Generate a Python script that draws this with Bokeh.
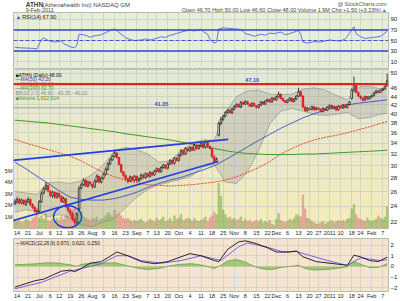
import numpy as np
import pandas as pd
from bokeh.plotting import figure
from bokeh.layouts import column
from bokeh.models import (Range1d, LinearAxis, LinearScale, FixedTicker, Label, Span,
                          BoxAnnotation, Grid, NumeralTickFormatter)
from bokeh.embed import file_html
from bokeh.resources import INLINE

# ---------------- data ----------------
start_date = "2010-06-11"
end_date = "2011-02-09"
market_holidays = ["2010-07-05", "2010-09-06", "2010-11-25", "2010-12-24", "2011-01-17"]

opens = [24.3,
         24.6, 24.9, 24.4, 24.8, 24.2,
         24.6, 24.9, 24.2, 23.8, 23.4,
         23.3, 24.6, 25.8, 26.4, 26.9,
         26.0, 25.4, 25.9, 25.2,
         25.7, 25.3, 24.6, 25.0, 23.9,
         23.4, 23.0, 22.3, 21.9, 23.6,
         26.5, 27.0, 27.7, 26.8, 27.4,
         27.1, 26.7, 27.5, 28.3, 27.4,
         28.0, 28.6, 29.4, 30.3, 31.0,
         31.6, 32.2, 31.4, 30.2, 29.0,
         28.4, 27.9, 27.5, 28.2, 27.7,
         28.3, 27.6, 27.9, 28.5, 28.1,
         28.7, 28.3, 28.9, 28.5,
         29.1, 29.5, 29.0, 29.7, 30.1,
         29.6, 30.3, 30.9, 30.4, 31.3,
         30.9, 31.8, 32.6, 32.0, 33.0,
         32.6, 33.2, 32.7, 33.6, 33.0,
         33.5, 33.9, 33.2, 34.1, 33.4,
         33.0, 31.5, 30.7, 35.5, 37.9,
         38.8, 39.5, 40.3, 40.8, 40.2,
         41.0, 41.6, 42.1, 41.5, 42.6,
         42.2, 42.8, 42.2, 41.7, 42.4,
         41.8, 41.4, 42.0, 42.7, 42.2,
         42.9, 43.3, 42.7, 43.6,
         43.2, 43.9, 44.6, 43.5, 43.0,
         42.6, 43.1, 43.6, 42.8, 43.4,
         44.1, 45.2, 44.1, 41.5, 40.7,
         41.2, 41.0, 41.6, 40.9,
         41.3, 41.0, 40.5, 41.2, 40.8,
         41.5, 41.9, 41.2, 41.6, 40.9,
         41.7, 41.3, 42.0, 41.4, 42.1,
         43.5, 45.6, 47.2, 45.0,
         44.1, 43.6, 43.1, 44.0, 43.4,
         43.9, 44.2, 44.9, 45.4, 45.0,
         45.6, 45.9, 46.7]

highs = [24.9,
         25.2, 25.1, 25.0, 24.9, 24.9,
         25.2, 25.0, 24.4, 24.0, 23.7,
         24.8, 26.0, 26.7, 27.4, 27.0,
         26.2, 26.1, 26.0, 25.9,
         25.9, 25.5, 25.3, 25.1, 24.1,
         23.7, 23.2, 22.5, 23.2, 26.8,
         27.3, 28.0, 27.8, 27.6, 27.6,
         27.2, 27.8, 28.6, 28.4, 28.2,
         28.8, 29.7, 30.6, 31.3, 31.8,
         32.6, 32.3, 31.5, 30.3, 29.1,
         28.6, 28.0, 28.4, 28.3, 28.5,
         28.4, 28.1, 28.7, 28.7, 28.9,
         28.8, 29.1, 29.0, 29.3,
         29.7, 29.6, 29.9, 30.3, 30.2,
         30.5, 31.1, 31.0, 31.5, 31.4,
         32.0, 32.9, 32.8, 33.3, 33.2,
         33.4, 33.4, 33.9, 33.7, 33.7,
         34.1, 34.0, 34.5, 34.2, 33.6,
         33.2, 31.8, 31.4, 38.3, 39.3,
         39.8, 40.6, 41.1, 41.0, 41.3,
         41.9, 42.4, 42.3, 42.9, 42.8,
         43.1, 43.0, 42.3, 42.6, 42.5,
         41.9, 42.2, 42.9, 42.9, 43.1,
         43.5, 43.4, 43.8, 43.8,
         44.2, 45.2, 44.7, 43.7, 43.2,
         43.3, 43.8, 43.7, 43.6, 44.3,
         46.2, 45.4, 44.3, 41.8, 41.5,
         41.4, 41.8, 41.7, 41.5,
         41.5, 41.2, 41.4, 41.3, 41.7,
         42.1, 42.0, 41.8, 41.7, 41.9,
         41.9, 42.2, 42.1, 42.3, 42.9,
         46.0, 49.2, 47.5, 45.3,
         44.3, 43.8, 44.2, 44.1, 44.1,
         44.4, 45.1, 45.6, 45.5, 45.8,
         46.1, 46.8, 50.0]

lows = [24.1,
        24.3, 24.2, 24.2, 24.1, 24.0,
        24.4, 24.0, 23.6, 23.1, 22.9,
        23.1, 24.4, 25.6, 26.2, 25.9,
        25.2, 25.1, 25.0, 25.0,
        25.0, 24.4, 24.4, 23.7, 23.1,
        22.7, 22.1, 21.6, 21.7, 23.4,
        26.3, 26.8, 26.6, 26.6, 26.9,
        26.4, 26.5, 27.3, 27.2, 27.2,
        27.8, 28.4, 29.2, 30.1, 30.8,
        31.4, 31.2, 30.0, 28.8, 28.1,
        27.6, 27.2, 27.4, 27.5, 27.5,
        27.4, 27.4, 27.7, 27.9, 27.9,
        28.1, 28.1, 28.3, 28.4,
        28.9, 28.8, 28.9, 29.5, 29.4,
        29.4, 30.1, 30.2, 30.2, 30.7,
        30.7, 31.6, 31.8, 31.8, 32.3,
        32.4, 32.5, 32.6, 32.8, 32.8,
        33.2, 33.0, 33.0, 33.2, 32.8,
        31.3, 30.4, 30.5, 35.3, 37.6,
        38.5, 39.3, 40.0, 40.0, 40.0,
        40.8, 41.4, 41.3, 41.3, 41.9,
        42.0, 42.0, 41.5, 41.5, 41.6,
        41.1, 41.2, 41.8, 42.0, 42.0,
        42.7, 42.5, 42.5, 43.0,
        43.0, 43.7, 43.3, 42.8, 42.4,
        42.4, 42.9, 42.6, 42.6, 43.2,
        43.9, 43.9, 41.2, 40.4, 40.5,
        40.7, 40.8, 40.7, 40.8,
        40.8, 40.3, 40.3, 40.6, 40.6,
        41.2, 41.0, 41.0, 40.6, 40.7,
        41.1, 41.1, 41.2, 41.2, 41.9,
        43.3, 45.2, 44.8, 43.9,
        43.3, 42.8, 43.0, 43.2, 43.3,
        43.7, 44.0, 44.7, 44.8, 44.9,
        45.3, 45.7, 46.6]

closes = [24.6,
          24.9, 24.4, 24.8, 24.3, 24.6,
          24.9, 24.2, 23.8, 23.3, 23.2,
          24.6, 25.7, 26.4, 26.9, 26.1,
          25.4, 25.9, 25.2, 25.7,
          25.3, 24.6, 25.0, 23.9, 23.4,
          23.0, 22.3, 21.9, 22.9, 26.4,
          27.0, 27.7, 26.8, 27.4, 27.1,
          26.7, 27.5, 28.3, 27.4, 28.0,
          28.6, 29.4, 30.3, 31.0, 31.6,
          32.2, 31.4, 30.2, 29.0, 28.4,
          27.9, 27.5, 28.2, 27.7, 28.3,
          27.6, 27.9, 28.5, 28.1, 28.7,
          28.3, 28.9, 28.5, 29.1,
          29.5, 29.0, 29.7, 30.1, 29.6,
          30.3, 30.9, 30.4, 31.3, 30.9,
          31.8, 32.6, 32.0, 33.0, 32.6,
          33.2, 32.7, 33.6, 33.0, 33.5,
          33.9, 33.2, 34.1, 33.4, 33.0,
          31.5, 30.7, 31.1, 37.9, 38.8,
          39.5, 40.3, 40.8, 40.2, 41.0,
          41.6, 42.1, 41.5, 42.6, 42.2,
          42.8, 42.2, 41.7, 42.4, 41.8,
          41.4, 42.0, 42.7, 42.2, 42.9,
          43.3, 42.7, 43.6, 43.2,
          43.9, 44.6, 43.5, 43.0, 42.6,
          43.1, 43.6, 42.8, 43.4, 44.1,
          45.2, 44.1, 41.5, 40.7, 41.2,
          41.0, 41.6, 40.9, 41.3,
          41.0, 40.5, 41.2, 40.8, 41.5,
          41.9, 41.2, 41.6, 40.9, 41.7,
          41.3, 42.0, 41.4, 42.1, 42.7,
          45.6, 47.2, 45.0, 44.1,
          43.6, 43.1, 44.0, 43.4, 43.9,
          44.2, 44.9, 45.4, 45.0, 45.6,
          45.9, 46.5, 48.0]

volumes_m = [0.8,
             0.6, 0.7, 0.5, 0.6, 0.8,
             0.7, 0.6, 0.9, 1.0, 1.2,
             0.9, 1.1, 0.8, 1.3, 0.7,
             0.6, 0.8, 0.7, 0.9,
             0.7, 1.0, 0.8, 1.2, 1.1,
             1.3, 1.6, 1.9, 1.4, 2.2,
             1.5, 1.0, 0.9, 0.8, 0.7,
             0.9, 0.8, 1.0, 0.7, 0.8,
             0.9, 1.1, 1.4, 1.2, 1.0,
             1.6, 1.2, 1.3, 1.1, 0.9,
             0.8, 0.9, 0.7, 0.6, 0.7,
             0.6, 0.7, 0.8, 0.6, 0.5,
             0.6, 0.8, 0.7, 0.6,
             0.9, 0.7, 0.8, 1.0, 0.6,
             0.7, 0.9, 0.6, 1.1, 0.8,
             0.9, 1.2, 0.7, 0.8, 0.9,
             0.8, 0.6, 0.9, 0.7, 0.6,
             0.7, 0.8, 1.0, 0.6, 0.9,
             1.1, 1.4, 1.2, 3.9, 2.8,
             1.6, 1.2, 0.9, 1.0, 0.8,
             0.9, 0.7, 0.8, 1.0, 0.6,
             0.8, 0.6, 0.7, 0.5, 0.6,
             0.7, 0.6, 0.8, 0.5, 0.6,
             0.5, 0.7, 0.4, 0.3,
             0.8, 1.3, 0.7, 0.6, 0.5,
             0.6, 0.8, 0.7, 0.9, 1.2,
             1.1, 1.0, 2.9, 1.7, 0.9,
             0.8, 0.6, 0.5, 0.4,
             0.4, 0.5, 0.6, 0.4, 0.5,
             0.6, 0.7, 0.5, 0.6, 0.7,
             0.6, 0.7, 0.6, 0.8, 0.9,
             1.7, 2.1, 1.2, 0.9,
             0.8, 0.7, 0.6, 0.9, 0.7,
             0.6, 0.7, 0.8, 1.1, 0.9,
             0.8, 1.0, 1.9]

# indicator samples (trading-day index -> value)
ind_idx = [0, 5, 10, 15, 20, 25, 30, 35, 40, 45, 50, 55, 60, 65, 70, 75, 80, 85, 90, 95,
           100, 105, 110, 115, 120, 125, 130, 135, 140, 145, 150, 155, 160, 165, 168]
ma50 = [30.6, 29.5, 28.3, 27.2, 26.1, 25.2, 24.9, 24.8, 24.8, 25.0, 25.4, 25.9, 26.6, 27.2,
        27.7, 28.1, 28.7, 29.3, 30.0, 31.0, 32.1, 33.3, 34.5, 35.7, 36.9, 38.0, 39.1, 40.0,
        40.8, 41.5, 42.0, 42.4, 42.7, 43.0, 43.2]
ma100 = [34.7, 34.0, 33.4, 32.8, 32.2, 31.6, 30.8, 29.8, 28.9, 28.2, 27.7, 27.3, 27.0, 26.9,
         26.8, 26.9, 27.0, 27.2, 27.4, 27.7, 28.2, 28.9, 29.7, 30.7, 32.0, 33.0, 33.9, 34.6,
         35.1, 35.5, 36.0, 36.6, 37.2, 37.9, 38.3]
ma200 = [38.6, 38.4, 38.2, 38.0, 37.7, 37.4, 37.1, 36.8, 36.5, 36.2, 35.8, 35.5, 35.2, 34.9,
         34.6, 34.2, 33.8, 33.4, 33.0, 32.6, 32.3, 32.1, 32.0, 31.9, 31.9, 31.9, 32.0, 32.0,
         32.1, 32.2, 32.3, 32.4, 32.5, 32.6, 32.7]
bb_upper = [26.0, 25.8, 25.6, 27.3, 27.4, 27.2, 27.6, 28.6, 30.2, 32.6, 33.2, 32.8, 32.0, 30.6,
            30.8, 32.6, 34.0, 34.6, 34.6, 40.2, 44.0, 45.4, 45.6, 44.6, 44.4, 44.6, 45.8, 46.2,
            45.6, 44.3, 43.2, 46.4, 46.6, 45.9, 46.6]
bb_lower = [23.2, 23.5, 23.3, 22.6, 22.9, 22.4, 21.6, 21.4, 22.0, 22.4, 23.8, 25.2, 26.3, 27.0,
            27.4, 27.8, 28.4, 29.8, 30.2, 27.4, 27.2, 29.0, 32.6, 37.8, 40.6, 41.2, 40.6, 39.9,
            39.6, 39.9, 40.3, 38.9, 39.2, 39.9, 40.1]

rsi_idx = [0, 3, 8, 10, 12, 13, 15, 18, 21, 22, 25, 27, 28, 29, 32, 34, 36, 39, 41, 43, 45, 48,
           50, 52, 54, 57, 59, 61, 63, 66, 68, 70, 72, 75, 77, 79, 81, 84, 85, 87, 88, 90, 91, 92,
           94, 97, 102, 104, 106, 108, 111, 113, 115, 117, 120, 122, 124, 126, 128, 129, 130, 132,
           135, 138, 140, 142, 144, 147, 149, 150, 152, 153, 154, 156, 158, 160, 162, 165, 166, 168]
rsi_val = [37, 36, 35, 34, 52, 55, 50, 47, 49, 44, 38, 36, 41, 62, 60, 56, 59, 61, 65, 69, 72, 62,
           55, 52, 50, 51, 53, 51, 53, 57, 56, 60, 62, 66, 68, 70, 68, 71, 67, 62, 52, 45, 47, 72,
           74, 73, 71, 63, 61, 58, 62, 60, 64, 63, 66, 61, 63, 66, 69, 62, 47, 45, 48, 47, 49, 51,
           50, 49, 53, 58, 70, 76, 63, 57, 54, 55, 56, 58, 61, 67.9]

macd_idx = [0, 9, 13, 21, 25, 27, 30, 34, 39, 43, 46, 51, 57, 63, 69, 75, 79, 84, 90, 92, 96, 101,
            104, 108, 114, 118, 124, 127, 130, 136, 144, 150, 153, 156, 160, 164, 168]
macd_line = [-1.95, -1.35, -1.2, -0.45, -0.35, -0.5, -0.2, 0.3, 0.45, 0.95, 1.35, 1.0, 0.45, 0.25,
             0.45, 0.9, 1.2, 1.0, 0.55, 0.45, 1.6, 2.3, 2.4, 2.2, 1.75, 1.35, 1.35, 1.45, 0.9,
             0.45, 0.25, 0.1, 1.05, 0.9, 0.55, 0.45, 0.87]
signal_idx = [0, 12, 25, 30, 39, 46, 51, 57, 66, 75, 84, 93, 101, 105, 114, 121, 127, 141, 150,
              156, 165, 168]
signal_line = [-2.1, -1.5, -0.45, -0.2, 0.25, 1.0, 1.0, 0.55, 0.3, 0.55, 1.0, 0.55, 1.85, 2.2, 1.8,
               1.35, 1.4, 0.55, 0.1, 0.8, 0.55, 0.62]
hist_idx = [0, 5, 10, 15, 20, 25, 28, 30, 35, 40, 45, 50, 55, 60, 65, 70, 75, 80, 85, 90, 93, 96,
            100, 104, 108, 112, 116, 120, 124, 128, 131, 135, 140, 145, 150, 153, 156, 160, 164, 168]
hist_val = [0.15, 0.2, 0.25, 0.35, 0.3, 0.15, 0.0, 0.2, 0.3, 0.3, 0.35, 0.1, -0.15, -0.3, -0.2,
            0.05, 0.2, 0.25, 0.1, -0.2, 0.1, 0.5, 0.65, 0.4, 0.0, -0.25, -0.3, -0.1, 0.0, 0.1, -0.2,
            -0.35, -0.3, -0.2, -0.05, 0.45, 0.2, -0.1, -0.1, 0.25]

# annotation lines (trading-day index, price)
trend_upper = {"idx": [-6.4, 96.3], "price": [30.7, 34.7]}
trend_lower = {"idx": [-6.4, 91.8], "price": [21.7, 30.7]}
resistance_level = 47.10
support_level = 41.35
support_end_idx = 100
circle_center = {"idx": 23.8, "price": 22.6}

tick_dates = ["2010-06-14", "2010-06-21", "2010-06-28", "2010-07-06", "2010-07-12", "2010-07-19",
              "2010-07-26", "2010-08-02", "2010-08-09", "2010-08-16", "2010-08-23", "2010-08-30",
              "2010-09-07", "2010-09-13", "2010-09-20", "2010-09-27", "2010-10-04", "2010-10-11",
              "2010-10-18", "2010-10-25", "2010-11-01", "2010-11-08", "2010-11-15", "2010-11-22",
              "2010-11-29", "2010-12-06", "2010-12-13", "2010-12-20", "2010-12-27", "2011-01-03",
              "2011-01-10", "2011-01-18", "2011-01-24", "2011-01-31", "2011-02-07"]
tick_labels = ["14", "21", "Jul", "6", "12", "19", "26", "Aug", "9", "16", "23", "Sep", "7", "13",
               "20", "Oct", "4", "11", "18", "25", "Nov", "8", "15", "22", "Dec", "6", "13", "20",
               "27", "2011", "10", "18", "24", "Feb", "7"]
price_ticks = [22, 24, 26, 28, 30, 32, 34, 36, 38, 40, 42, 44, 46, 50]
vol_ticks = [1e6, 2e6, 3e6, 4e6, 5e6]
vol_labels = ["1M", "2M", "3M", "4M", "5M"]
rsi_ticks = [10, 30, 50, 70, 90]
macd_ticks = [-2, -1, 0, 1, 2]

# ---------------- build ----------------
n = len(closes)
days = [d for d in pd.bdate_range(start_date, end_date)
        if d.strftime("%Y-%m-%d") not in market_holidays][:n]
day_str = [d.strftime("%Y-%m-%d") for d in days]
tick_idx = [day_str.index(t) for t in tick_dates]
overrides = {int(i): lab for i, lab in zip(tick_idx, tick_labels)}

FONT = "Liberation Sans"
FS = "6px"
W = 400
LB, RB = 13, 12
xr = Range1d(-0.6, n - 0.4)

GRID_COLOR = "#cfd3c4"


def add_xgrid(p):
    g = Grid(dimension=0, ticker=FixedTicker(ticks=tick_idx), grid_line_color=GRID_COLOR,
             grid_line_alpha=0.9, grid_line_width=1)
    p.add_layout(g)


def style_axis(ax):
    ax.major_label_text_font = FONT
    ax.major_label_text_font_size = FS
    ax.major_label_text_color = "#222222"
    ax.axis_line_color = None
    ax.major_tick_line_color = None
    ax.minor_tick_line_color = None
    ax.major_tick_out = 0
    ax.major_tick_in = 0
    ax.major_label_standoff = 2


def bottom_axis(p):
    ax = LinearAxis(ticker=FixedTicker(ticks=tick_idx), major_label_overrides=overrides)
    style_axis(ax)
    ax.major_label_text_font_size = "5.5px"
    ax.major_label_standoff = 1
    p.add_layout(ax, "below")


def value_box(p, yv, text, color, y_range_name="default", tc="white"):
    lab = Label(x=n - 0.4, y=yv, text=text, x_offset=0.5, text_font=FONT, text_font_size="4.4px",
                text_color=tc, text_align="left", text_baseline="middle",
                background_fill_color=color, y_range_name=y_range_name)
    p.add_layout(lab)


# ---- header ----
hdr = figure(width=W, height=12, x_range=Range1d(0, W), y_range=Range1d(0, 12),
             x_axis_type=None, y_axis_type=None, toolbar_location=None, output_backend="svg",
             min_border=0, outline_line_color=None)
hdr.grid.visible = False
hdr.add_layout(Label(x=13, y=8, text="ATHN", text_font=FONT, text_font_size="6.5px",
                     text_font_style="bold", text_baseline="middle"))
hdr.add_layout(Label(x=31, y=8, text="(Athenahealth Inc) NASDAQ GM", text_font=FONT,
                     text_font_size="6px", text_baseline="middle"))
hdr.add_layout(Label(x=13, y=2.5, text="9-Feb-2011", text_font=FONT, text_font_size="5.5px",
                     text_baseline="middle"))
hdr.add_layout(Label(x=398, y=8.5, text="@ StockCharts.com", text_font=FONT,
                     text_font_size="5.5px", text_color="#555555", text_align="right",
                     text_baseline="middle"))
hdr.add_layout(Label(x=392, y=2.5,
                     text="Open 46.70 High 50.00 Low 46.60 Close 48.00 Volume 1.9M Chg +1.50 (+3.23%)",
                     text_font=FONT, text_font_size="5.5px", text_align="right",
                     text_baseline="middle"))
hdr.add_layout(Label(x=398, y=2.5, text="▲", text_font=FONT, text_font_size="5px",
                     text_color="#2e9d2e", text_align="right", text_baseline="middle"))

# ---- RSI panel ----
rsi = figure(width=W, height=57, x_range=xr, y_range=Range1d(-5.2, 103.3),
             toolbar_location=None, output_backend="svg", x_axis_location=None,
             y_axis_location="right", min_border_left=LB, min_border_right=RB,
             min_border_top=0, min_border_bottom=0, background_fill_color="#e7eed9",
             outline_line_color="#b8bcae")
rsi.yaxis[0].ticker = FixedTicker(ticks=rsi_ticks)
style_axis(rsi.yaxis[0])
rsi.ygrid.ticker = FixedTicker(ticks=rsi_ticks)
rsi.ygrid.grid_line_color = GRID_COLOR
add_xgrid(rsi)
for lvl, dash in [(70, "solid"), (30, "solid"), (50, "4 2")]:
    rsi.add_layout(Span(location=lvl, dimension="width", line_color="#3347d6",
                        line_width=1.3 if dash == "solid" else 0.9, line_dash=dash))
rsi.line(rsi_idx, rsi_val, line_color="#3d5bd0", line_width=0.8)
rsi.add_layout(Label(x=0.5, y=101, text="▲", text_font=FONT, text_font_size="5px",
                     text_color="#3347d6", text_baseline="top"))
rsi.add_layout(Label(x=3.3, y=101, text="RSI(14) 67.90", text_font=FONT, text_font_size="5.5px",
                     text_color="#222222", text_baseline="top"))
value_box(rsi, rsi_val[-1], "67.90", "#3347d6")

# ---- main price panel ----
main = figure(width=W, height=169, x_range=xr, y_range=Range1d(21.19, 51.1),
              y_axis_type="log", toolbar_location=None, output_backend="svg",
              x_axis_location=None, y_axis_location="right", min_border_left=LB,
              min_border_right=RB, min_border_top=0, min_border_bottom=7,
              background_fill_color="#efebc9", outline_line_color="#b8bcae")
main.extra_y_ranges = {"vol": Range1d(0, 13.8e6)}
main.extra_y_scales = {"vol": LinearScale()}

# soft vertical colour gradient of the panel background
top_c = np.array([0xe4, 0xe8, 0xd6])
bot_c = np.array([0xf4, 0xec, 0xba])
edges = np.geomspace(51.1, 21.19, 13)
for k in range(12):
    cc = top_c + (bot_c - top_c) * (k / 11.0)
    col = "#%02x%02x%02x" % tuple(int(v) for v in cc)
    main.add_layout(BoxAnnotation(top=edges[k], bottom=edges[k + 1], fill_color=col,
                                  fill_alpha=1.0, line_alpha=0, level="image"))

yax = main.yaxis[0]
yax.ticker = FixedTicker(ticks=price_ticks)
yax.formatter = NumeralTickFormatter(format="0")
style_axis(yax)
main.ygrid.ticker = FixedTicker(ticks=price_ticks)
main.ygrid.grid_line_color = GRID_COLOR
add_xgrid(main)

vax = LinearAxis(y_range_name="vol", ticker=FixedTicker(ticks=vol_ticks),
                 major_label_overrides={v: l for v, l in zip(vol_ticks, vol_labels)})
style_axis(vax)
vax.major_label_standoff = 1
vax.major_label_text_font_size = "5.5px"
main.add_layout(vax, "left")

idx = np.arange(n)
o = np.array(opens); c = np.array(closes); h = np.array(highs); lo = np.array(lows)
vol = np.array(volumes_m) * 1e6
up = c >= o

# volume
main.vbar(x=idx[up], top=vol[up], bottom=0, width=0.75, y_range_name="vol",
          fill_color="#86b85a", fill_alpha=0.6, line_color="#6ea043", line_alpha=0.6,
          line_width=0.5)
main.vbar(x=idx[~up], top=vol[~up], bottom=0, width=0.75, y_range_name="vol",
          fill_color="#e58a8a", fill_alpha=0.6, line_color="#d06a6a", line_alpha=0.6,
          line_width=0.5)

# bollinger band
main.varea(x=ind_idx, y1=bb_lower, y2=bb_upper, fill_color="#9c9c9c", fill_alpha=0.33)
main.line(ind_idx, bb_upper, line_color="#8a8a8a", line_width=0.6)
main.line(ind_idx, bb_lower, line_color="#8a8a8a", line_width=0.6)

# moving averages
main.line(ind_idx, ma50, line_color="#2b3fc8", line_width=0.8)
main.line(ind_idx, ma100, line_color="#e8452a", line_width=1.0, line_dash="2 1")
main.line(ind_idx, ma200, line_color="#3d9a2a", line_width=1.0)

# candles
main.segment(x0=idx[up], y0=lo[up], x1=idx[up], y1=h[up], line_color="#111111", line_width=0.8)
main.segment(x0=idx[~up], y0=lo[~up], x1=idx[~up], y1=h[~up], line_color="#d81e1e",
             line_width=0.8)
main.vbar(x=idx[up], top=c[up], bottom=o[up], width=0.7, fill_color="#f4f1dc",
          line_color="#111111", line_width=0.7)
main.vbar(x=idx[~up], top=o[~up], bottom=c[~up], width=0.7, fill_color="#e01f1f",
          line_color="#d81e1e", line_width=0.7)

# drawn annotations
main.add_layout(Span(location=resistance_level, dimension="width", line_color="#e8201a",
                     line_width=2.2))
main.line([-0.6, support_end_idx], [support_level, support_level], line_color="#3b52e0",
          line_width=1.2, line_dash="1 1")
main.add_layout(Label(x=104, y=resistance_level, y_offset=2.5, text="47.10", text_font=FONT,
                      text_font_size="5.5px", text_font_style="bold", text_color="#3347d6"))
main.add_layout(Label(x=63, y=support_level, y_offset=2, text="41.35", text_font=FONT,
                      text_font_size="5.5px", text_font_style="bold", text_color="#3347d6"))
main.line(trend_upper["idx"], trend_upper["price"], line_color="#1f3fe0", line_width=1.6)
main.line(trend_lower["idx"], trend_lower["price"], line_color="#1f3fe0", line_width=1.6)
main.ellipse(x=[circle_center["idx"]], y=[circle_center["price"]], width=28, height=22,
             width_units="screen", height_units="screen", fill_color=None,
             line_color="#1f3fe0", line_width=1.5)

# legend block (text lines)
legend_lines = [("■ATHN (Daily) 48.00", "#111111"),
                ("—MA(50) 43.20", "#2b3fc8"),
                ("—MA(100) 38.30", "#e8452a"),
                ("—MA(200) 32.70", "#3d9a2a"),
                ("BB(20,2.0) 46.60 - 43.35 - 40.10", "#888888"),
                ("■Volume 1,912,614", "#3d9a2a")]
for k, (txt, colr) in enumerate(legend_lines):
    main.add_layout(Label(x=0.3, y=51.1, y_offset=-2 - 4.6 * k, text=txt, text_font=FONT,
                          text_font_size="5px", text_color=colr, text_baseline="top"))

# right-edge value boxes
value_box(main, closes[-1], "48.00", "#111111")
value_box(main, ma50[-1], "43.20", "#2b3fc8")
value_box(main, ma100[-1], "38.30", "#e8452a")
value_box(main, ma200[-1], "32.70", "#3d9a2a")
value_box(main, vol[-1], "1.91M", "#3d9a2a", y_range_name="vol")

bottom_axis(main)

# ---- MACD panel ----
macd = figure(width=W, height=63, x_range=xr, y_range=Range1d(-2.36, 2.62),
              toolbar_location=None, output_backend="svg", x_axis_location=None,
              y_axis_location="right", min_border_left=LB, min_border_right=RB,
              min_border_top=0, min_border_bottom=7, background_fill_color="#f5e4cf",
              outline_line_color="#b8bcae")
macd.yaxis[0].ticker = FixedTicker(ticks=macd_ticks)
style_axis(macd.yaxis[0])
macd.ygrid.ticker = FixedTicker(ticks=macd_ticks)
macd.ygrid.grid_line_color = "#e2d2bd"
add_xgrid(macd)
macd.varea(x=hist_idx, y1=0, y2=hist_val, fill_color="#8cc063", fill_alpha=0.8)
macd.line(hist_idx, hist_val, line_color="#4f8a2a", line_width=0.6)
macd.line(signal_idx, signal_line, line_color="#7050e8", line_width=0.9)
macd.line(macd_idx, macd_line, line_color="#111111", line_width=0.9)
macd.add_layout(Label(x=0.3, y=2.62, y_offset=-1, text="—MACD(12,26,9) 0.870, 0.620, 0.250",
                      text_font=FONT, text_font_size="5px", text_color="#222222",
                      text_baseline="top"))
value_box(macd, macd_line[-1], "0.870", "#111111")
value_box(macd, signal_line[-1] - 0.35, "0.620", "#7050e8")
value_box(macd, hist_val[-1] - 0.75, "0.250", "#5aa02a")
bottom_axis(macd)

layout = column(hdr, rsi, main, macd, spacing=0)
open("out.html", "w").write(file_html(layout, INLINE))
